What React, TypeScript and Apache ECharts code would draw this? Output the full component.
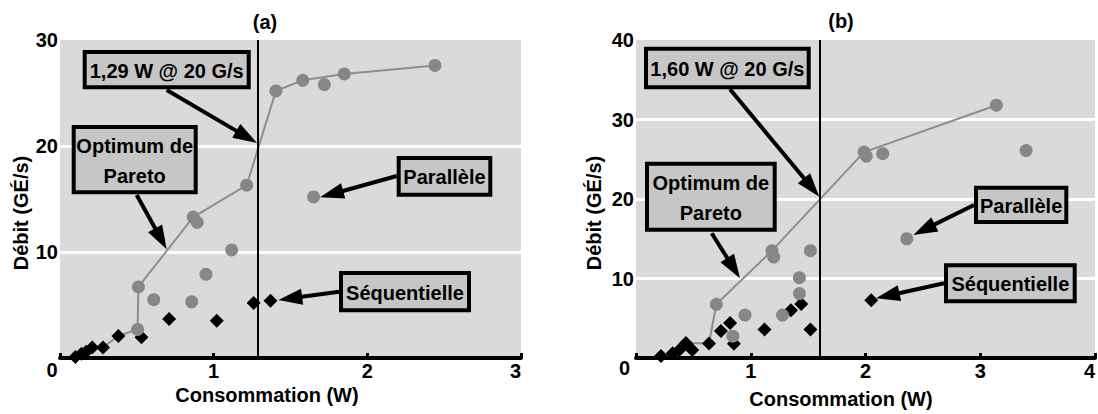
import React, { useEffect, useRef } from "react";
import * as echarts from "echarts";

// ---- Data: chart (a)
const parA: number[][] = [
  [0.505, 2.7], [0.51, 6.7], [0.61, 5.5], [0.857, 5.3], [0.95, 7.9], [0.867, 13.3],
  [0.893, 12.8], [1.117, 10.2], [1.215, 16.3], [1.405, 25.2], [1.58, 26.2],
  [1.72, 25.8], [1.85, 26.8], [2.44, 27.6], [1.65, 15.2],
];
const seqA: number[][] = [
  [0.1, 0.1], [0.14, 0.4], [0.17, 0.6], [0.21, 1.0], [0.28, 1.0], [0.38, 2.08],
  [0.53, 1.95], [0.71, 3.68], [1.02, 3.52], [1.26, 5.2], [1.37, 5.4],
];
const paretoA: number[][] = [
  [0.1, 0.1], [0.14, 0.4], [0.17, 0.6], [0.21, 1.0], [0.28, 1.0], [0.38, 2.08],
  [0.505, 2.7], [0.51, 6.7], [0.867, 13.3], [1.215, 16.3], [1.405, 25.2],
  [1.58, 26.2], [1.85, 26.8], [2.44, 27.6],
];
const optA = 1.29;

// ---- Data: chart (b)
const parB: number[][] = [
  [0.7, 6.75], [0.844, 2.75], [0.95, 5.4], [1.185, 13.5], [1.2, 12.7], [1.277, 5.4],
  [1.424, 10.1], [1.424, 8.1], [1.52, 13.5], [1.987, 25.9], [2.007, 25.4],
  [2.15, 25.7], [3.14, 31.8], [3.4, 26.1], [2.36, 15.0],
];
const seqB: number[][] = [
  [0.218, 0.25], [0.32, 0.6], [0.377, 1.0], [0.435, 1.9], [0.49, 1.0], [0.636, 1.83],
  [0.74, 3.4], [0.82, 4.4], [0.853, 1.8], [1.12, 3.6], [1.35, 6.0], [1.44, 6.8],
  [1.52, 3.6], [2.05, 7.25],
];
const paretoB: number[][] = [
  [0.218, 0.25], [0.32, 0.6], [0.377, 1.0], [0.435, 1.9], [0.636, 1.83], [0.7, 6.75],
  [1.185, 13.5], [1.987, 25.9], [3.14, 31.8],
];
const optB = 1.6;

const xMaxA = 3;
const yMaxA = 30;
const xMaxB = 4;
const yMaxB = 40;

const FONT = "'Liberation Sans', Arial, Helvetica, sans-serif";
const BG = "#dadada";
const CIRCLE = "#878787";
const LINE = "#8e8e8e";
const BOX = "#c6c6c6";

function txt(text: string, x: number, y: number, opts: any = {}) {
  return {
    type: "text",
    x,
    y,
    rotation: opts.rotation || 0,
    z: 100,
    style: {
      text,
      fill: "#000",
      fontFamily: FONT,
      fontWeight: "bold",
      fontSize: opts.fontSize || 20,
      align: opts.align || "center",
      verticalAlign: "middle",
      lineHeight: opts.lineHeight,
    },
  };
}

function box(text: string, x1: number, y1: number, x2: number, y2: number, lineHeight?: number) {
  return [
    {
      type: "rect",
      z: 100,
      shape: { x: x1 + 2, y: y1 + 2, width: x2 - x1 - 4, height: y2 - y1 - 4 },
      style: { fill: BOX, stroke: "#000", lineWidth: 4 },
    },
    txt(text, (x1 + x2) / 2, (y1 + y2) / 2 + 1, { lineHeight }),
  ];
}

function arrow(x1: number, y1: number, x2: number, y2: number) {
  const dx = x2 - x1;
  const dy = y2 - y1;
  const len = Math.sqrt(dx * dx + dy * dy);
  const ux = dx / len;
  const uy = dy / len;
  const hl = 24;
  const hw = 8;
  const bx = x2 - ux * hl;
  const by = y2 - uy * hl;
  return [
    {
      type: "line",
      z: 100,
      shape: { x1, y1, x2: bx + ux * 4, y2: by + uy * 4 },
      style: { stroke: "#000", lineWidth: 4 },
    },
    {
      type: "polygon",
      z: 100,
      shape: {
        points: [
          [x2, y2],
          [bx - uy * hw, by + ux * hw],
          [bx + uy * hw, by - ux * hw],
        ],
      },
      style: { fill: "#000" },
    },
  ];
}

function xAxisCfg(gridIndex: number, max: number) {
  return {
    type: "value",
    gridIndex,
    min: 0,
    max,
    interval: 1,
    axisLine: { show: true, onZero: false, lineStyle: { color: "#000", width: 4 } },
    axisTick: { show: true, inside: true, length: 5, lineStyle: { color: "#000", width: 3 } },
    splitLine: { show: false },
    axisLabel: {
      margin: 3,
      color: "#000",
      fontFamily: FONT,
      fontWeight: "bold",
      fontSize: 20,
      formatter: (v: number) => (v === 0 ? "" : String(v)),
      alignMaxLabel: "right",
    },
  };
}

function yAxisCfg(gridIndex: number, max: number) {
  return {
    type: "value",
    gridIndex,
    min: 0,
    max,
    interval: 10,
    axisLine: { show: false },
    axisTick: { show: false },
    splitLine: { show: true, showMinLine: false, showMaxLine: false, lineStyle: { color: "#fff", width: 3 } },
    axisLabel: {
      margin: 2,
      color: "#000",
      fontFamily: FONT,
      fontWeight: "bold",
      fontSize: 20,
      formatter: (v: number) => (v === 0 ? "" : String(v)),
    },
  };
}

function seriesFor(idx: number, par: number[][], seq: number[][], pareto: number[][], opt: number) {
  return [
    {
      type: "line",
      xAxisIndex: idx,
      yAxisIndex: idx,
      data: pareto,
      showSymbol: false,
      symbol: "none",
      lineStyle: { color: LINE, width: 2 },
      z: 2,
      markLine: {
        silent: true,
        symbol: "none",
        label: { show: false },
        lineStyle: { color: "#000", width: 2, type: "solid", opacity: 1 },
        data: [{ xAxis: opt }],
      },
    },
    {
      type: "scatter",
      xAxisIndex: idx,
      yAxisIndex: idx,
      data: seq,
      symbol: "diamond",
      symbolSize: 14,
      itemStyle: { color: "#000", opacity: 1 },
      z: 3,
    },
    {
      type: "scatter",
      xAxisIndex: idx,
      yAxisIndex: idx,
      data: par,
      symbol: "circle",
      symbolSize: 13,
      itemStyle: { color: CIRCLE, opacity: 1 },
      z: 4,
    },
  ];
}

export default function App() {
  const ref = useRef<HTMLDivElement>(null);
  useEffect(() => {
    if (!ref.current) return;
    const chart = echarts.init(ref.current, undefined, { renderer: "svg" });
    const graphic: any[] = [
      txt("(a)", 265, 22),
      txt("(b)", 841, 21),
      txt("Débit (GÉ/s)", 21, 213, { rotation: Math.PI / 2 }),
      txt("Débit (GÉ/s)", 594, 213, { rotation: Math.PI / 2 }),
      txt("Consommation (W)", 267, 395),
      txt("Consommation (W)", 841, 399),
      txt("0", 52, 370),
      txt("0", 630, 368, { align: "right" }),
      ...arrow(166.7, 90, 257, 143),
      ...arrow(136.7, 195, 166.7, 249.3),
      ...arrow(396.7, 176, 320, 197.3),
      ...arrow(339, 291.7, 278.3, 300),
      ...arrow(730, 89.3, 819.3, 196.7),
      ...arrow(711.7, 233.3, 740, 278.3),
      ...arrow(974, 205, 913.3, 235),
      ...arrow(944, 283.3, 876, 298.3),
      ...box("1,29 W @ 20 G/s", 82.7, 50, 250.7, 89.3),
      ...box("Optimum de\nPareto", 71.7, 125, 197.7, 194.3, 30),
      ...box("Parallèle", 396.7, 156, 492.3, 196.7),
      ...box("Séquentielle", 339, 271, 471, 312.3),
      ...box("1,60 W @ 20 G/s", 644, 46.7, 810.7, 89.3),
      ...box("Optimum de\nPareto", 645, 161.7, 776.7, 231.7, 30),
      ...box("Parallèle", 974, 185.7, 1068.3, 224),
      ...box("Séquentielle", 944, 263.3, 1076.7, 303.3),
    ];
    chart.setOption({
      animation: false,
      backgroundColor: "#fff",
      grid: [
        { left: 60, top: 40, width: 461, height: 318, show: true, backgroundColor: BG, borderWidth: 0 },
        { left: 636, top: 40, width: 462, height: 318, show: true, backgroundColor: BG, borderWidth: 0 },
      ],
      xAxis: [xAxisCfg(0, xMaxA), xAxisCfg(1, xMaxB)],
      yAxis: [yAxisCfg(0, yMaxA), yAxisCfg(1, yMaxB)],
      series: [
        ...seriesFor(0, parA, seqA, paretoA, optA),
        ...seriesFor(1, parB, seqB, paretoB, optB),
      ],
      graphic,
    });
    return () => chart.dispose();
  }, []);
  return (
    <div
      ref={ref}
      style={{ position: "absolute", left: 0, top: 0, width: 1098, height: 414 }}
    />
  );
}
